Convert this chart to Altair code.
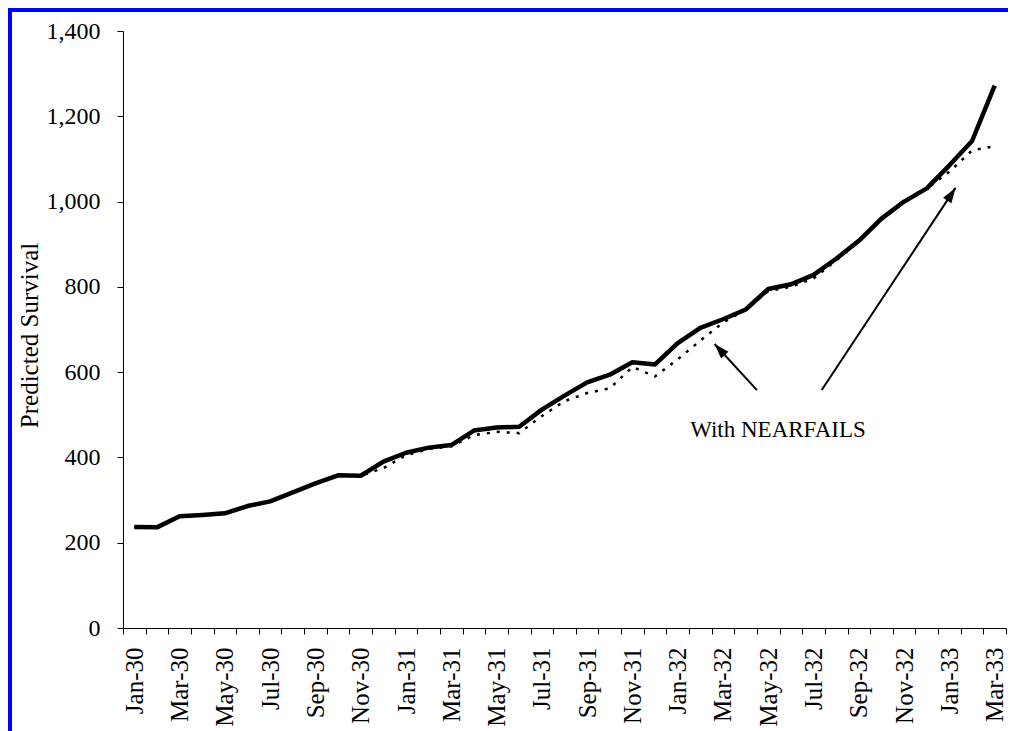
import altair as alt
import pandas as pd
import math

months = ["Jan-30","Feb-30","Mar-30","Apr-30","May-30","Jun-30","Jul-30","Aug-30","Sep-30","Oct-30","Nov-30","Dec-30",
          "Jan-31","Feb-31","Mar-31","Apr-31","May-31","Jun-31","Jul-31","Aug-31","Sep-31","Oct-31","Nov-31","Dec-31",
          "Jan-32","Feb-32","Mar-32","Apr-32","May-32","Jun-32","Jul-32","Aug-32","Sep-32","Oct-32","Nov-32","Dec-32",
          "Jan-33","Feb-33","Mar-33"]

without_nf = [237, 236, 262, 265, 269, 286, 297, 318, 339, 358, 357, 390,
              411, 423, 429, 463, 470, 472, 512, 545, 576, 594, 623, 618,
              668, 704, 724, 747, 795, 806, 828, 866, 908, 960, 1000, 1031,
              1085, 1142, 1272]

with_nf = [237, 236, 262, 265, 269, 286, 297, 318, 339, 358, 357, 375,
           405, 420, 426, 452, 460, 457, 497, 532, 551, 562, 612, 590,
           630, 674, 716, 746, 790, 800, 820, 862, 906, 958, 998, 1030,
           1070, 1120, 1130]

y_ticks = [0, 200, 400, 600, 800, 1000, 1200, 1400]

annot_text = "With NEARFAILS"
annot_pos = [28.93]
annot_val = [448]

arrow_start_pos = [28.0, 30.86]
arrow_start_val = [558, 558]
arrow_tip_pos = [26.13, 36.77]
arrow_tip_val = [666, 1032]

W, H = 883, 597
PADL, PADT, PADB, PADR = 115, 23, 103, 2
px_x = W / len(months)
px_y = H / 1400.0

n = len(months)
df = pd.DataFrame({
    "pos": [i + 0.5 for i in range(n)] * 2,
    "val": without_nf + with_nf,
    "series": ["without"] * n + ["with"] * n,
})

arrows = pd.DataFrame({
    "x": arrow_start_pos, "y": arrow_start_val,
    "x2": arrow_tip_pos, "y2": arrow_tip_val,
})
arrows["ang"] = [
    math.degrees(math.atan2((x2 - x1) * px_x, (y2 - y1) * px_y))
    for x1, y1, x2, y2 in zip(arrows.x, arrows.y, arrows.x2, arrows.y2)
]

font = "Liberation Serif"
lab_arr = "[" + ",".join("'" + m + "'" for m in months) + "]"
label_expr = f"(datum.value % 2 == 0 && datum.value < {n}) ? {lab_arr}[datum.value] : ''"

xscale = alt.Scale(domain=[0, n], nice=False, zero=False)
yscale = alt.Scale(domain=[0, 1400], nice=False)

x_axis = alt.Axis(values=list(range(n + 1)), labelExpr=label_expr, labelAngle=-90,
                  labelOffset=px_x / 2, labelFont=font, labelFontSize=25, labelColor="black",
                  tickSize=6, tickColor="black", domainColor="black", labelPadding=13,
                  grid=False, title=None, labelOverlap=False, labelBound=False, labelFlush=False)
y_axis = alt.Axis(values=y_ticks, labelExpr="format(datum.value, ',')", labelFont=font, labelFontSize=24,
                  labelColor="black",
                  tickSize=6, tickColor="black", domainColor="black", labelPadding=17, grid=False,
                  title="Predicted Survival", titleFont=font, titleFontSize=25, titleFontWeight="normal",
                  titleColor="black", titleAngle=-90, titleX=-86, titleY=304, titleBaseline="alphabetic",
                  titleAlign="center")


def X(field):
    return alt.X(field, scale=xscale, axis=x_axis, title=None)


def Y(field):
    return alt.Y(field, scale=yscale, axis=y_axis, title="Predicted Survival")


base = alt.Chart(df)

dotted = base.transform_filter(alt.datum.series == "with").mark_line(
    color="black", strokeWidth=2.5, strokeDash=[3, 7], strokeCap="butt"
).encode(x=X("pos:Q"), y=Y("val:Q"))

solid = base.transform_filter(alt.datum.series == "without").mark_line(
    color="black", strokeWidth=4.5, strokeJoin="round"
).encode(x=X("pos:Q"), y=Y("val:Q"))

arrow_lines = alt.Chart(arrows).mark_rule(color="black", strokeWidth=2).encode(
    x=X("x:Q"), y=Y("y:Q"), x2="x2:Q", y2="y2:Q",
)

arrow_heads = alt.Chart(arrows).mark_point(
    shape="M0,0L1,3L-1,3Z", filled=True, size=100, color="black", opacity=1, strokeWidth=0
).encode(
    x=X("x2:Q"), y=Y("y2:Q"),
    angle=alt.Angle("ang:Q", scale=None),
)

label = alt.Chart(pd.DataFrame({"x": annot_pos, "y": annot_val, "t": [annot_text]})).mark_text(
    font=font, fontSize=23, color="black", align="center", baseline="alphabetic"
).encode(x=X("x:Q"), y=Y("y:Q"), text="t:N")

border_top = alt.Chart(pd.DataFrame({"a": [0]})).mark_rule(color="#0000ff", strokeWidth=4).encode(
    x=alt.value(-PADL), x2=alt.value(W + PADR), y=alt.value(-PADT + 2),
)
border_left = alt.Chart(pd.DataFrame({"a": [0]})).mark_rule(color="#0000ff", strokeWidth=4).encode(
    x=alt.value(-PADL + 2), y=alt.value(-PADT), y2=alt.value(H + PADB),
)

chart = alt.layer(dotted, solid, arrow_lines, arrow_heads, label, border_top, border_left).properties(
    width=W, height=H,
    autosize=alt.AutoSizeParams(type="none"),
    padding={"left": PADL, "top": PADT, "right": PADR, "bottom": PADB},
    background="white",
).configure_view(stroke=None)

chart.save("out.html", embed_options={"renderer": "svg", "actions": False})
